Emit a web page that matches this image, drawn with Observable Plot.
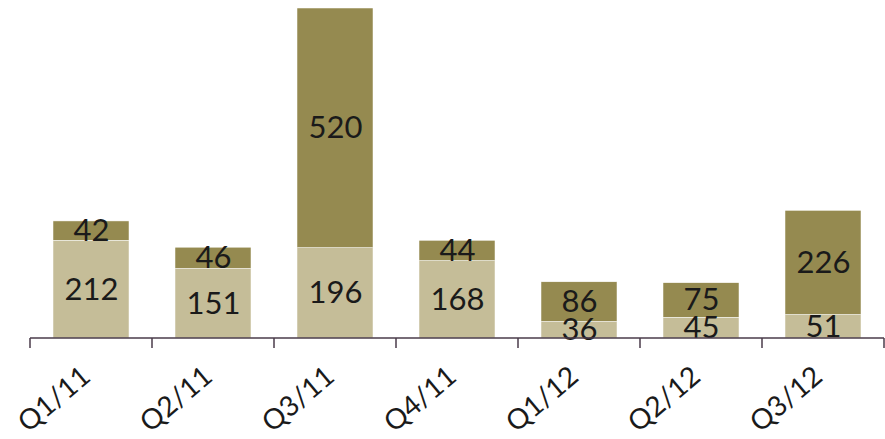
<!DOCTYPE html>
<html><head><meta charset="utf-8">
<script src="https://cdn.jsdelivr.net/npm/d3@7"></script>
<script src="https://cdn.jsdelivr.net/npm/@observablehq/plot@0.6"></script>
<style>body{margin:0;background:#fff}</style>
</head><body><div id="chart"></div>
<script>
const quarters = ["Q1/11","Q2/11","Q3/11","Q4/11","Q1/12","Q2/12","Q3/12"];
const lowerValues = [212, 151, 196, 168, 36, 45, 51];
const upperValues = [42, 46, 520, 44, 86, 75, 226];
const seriesNames = ["lower", "upper"];
const colors = ["#c5bd98", "#958a50"];

const data = [];
quarters.forEach((q, i) => {
  data.push({q, s: seriesNames[0], v: lowerValues[i]});
  data.push({q, s: seriesNames[1], v: upperValues[i]});
});
const font = "Lato, 'Noto Sans', sans-serif";

const boundaryTicks = () => (index, scales, values, dims) => {
  const x = scales.x;
  const step = x.step();
  const pad = (step - x.bandwidth()) / 2;
  const g = d3.create("svg:g");
  const y0 = scales.y(0);
  const edges = quarters.map(q => x(q) - pad);
  edges.push(x(quarters[quarters.length - 1]) + x.bandwidth() + pad);
  for (const e of edges) {
    g.append("line").attr("x1", e).attr("x2", e).attr("y1", y0).attr("y2", y0 + 10)
      .attr("stroke", "#4a3b4a").attr("stroke-width", 1.5);
  }
  g.append("line").attr("x1", edges[0]).attr("x2", edges[edges.length-1]).attr("y1", y0).attr("y2", y0)
    .attr("stroke", "#4a3b4a").attr("stroke-width", 1.5);
  return g.node();
};

const chart = Plot.plot({
  width: 885,
  height: 439,
  marginLeft: 30,
  marginRight: 1,
  marginTop: 8,
  marginBottom: 101,
  style: {fontFamily: font, background: "#fff"},
  x: {domain: quarters, paddingInner: 0.38, paddingOuter: 0.19, label: null},
  y: {domain: [0, 716], axis: null},
  color: {domain: seriesNames, range: colors},
  marks: [
    Plot.barY(data, {x: "q", y: "v", fill: "s", z: "s", order: seriesNames, stroke: "#fff", strokeWidth: 0.5}),
    Plot.text(data, Plot.stackY({x: "q", y: "v", z: "s", order: seriesNames, text: "v", fontSize: 31, fill: "#1a1a1a"})),
    boundaryTicks(),
    Plot.axisX({tickSize: 0, tickRotate: -40, tickPadding: 34, fontSize: 28, fill: "#1a1a1a", textAnchor: "end", lineAnchor: "middle", dx: -5, label: null})
  ]
});
document.getElementById("chart").append(chart);
</script></body></html>
